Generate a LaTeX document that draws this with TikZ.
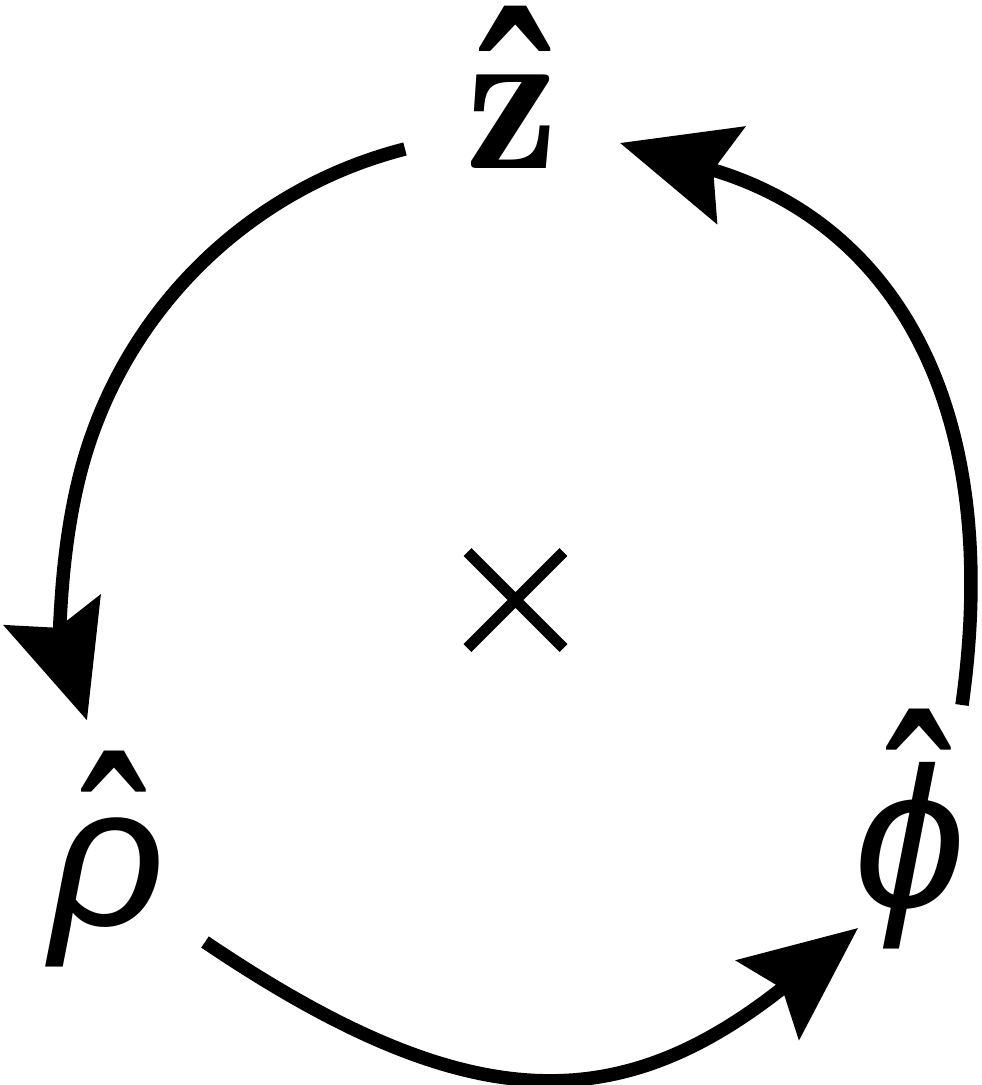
\documentclass[tikz,border=0pt]{standalone}
\usepackage{fontspec}
\usepackage{graphicx}
\usetikzlibrary{arrows.meta,shapes.misc}
\newfontfamily\labfont{Liberation Sans}
% #1 letter, #2 horizontal shift of hat, #3 raise of hat, #4 hat x-scale, #5 hat y-scale
\newcommand\sfhat[5]{\setbox0\hbox{#1}\copy0\kern-\wd0\rlap{\kern#2\raisebox{#3}{\hbox to\wd0{\hss\scalebox{#4}[#5]{\labfont\upshape\fontsize{57}{60}\selectfont ˆ}\hss}}}\kern\wd0}
\tikzset{
  arcline/.style={line width=0.135cm, line cap=butt, -{Stealth[length=1.15cm,width=1.0cm,inset=0.18cm]}},
  greeklab/.style={inner sep=0pt, anchor=base, font=\labfont\itshape\fontsize{57}{60}\selectfont},
  zlab/.style={inner sep=0pt, anchor=base, font=\fontsize{60}{64}\selectfont},
  crossmark/.style={cross out, draw, line width=0.11cm, minimum size=0.85cm, inner sep=0pt}
}
\begin{document}
\begin{tikzpicture}
\useasboundingbox (0,0) rectangle (9.82,-10.85);
\node[crossmark] (x) at (5.155,-6.00) {};
\node[zlab] (z) at (5.12,-1.68) {\sfhat{$\mathbf{z}$}{0.04cm}{-0.71cm}{1.1}{1.6}};
\node[greeklab] (rho) at (1.08,-9.25) {\sfhat{ρ}{0.07cm}{-0.37cm}{1}{1.45}};
\node[greeklab] (phi) at (9.10,-9.07) {\sfhat{ϕ}{0.10cm}{-0.13cm}{1}{1.45}};
% connector end points
\coordinate (zL) at (4.05,-1.49);
\coordinate (rhoB) at (2.05,-9.42);
\coordinate (phiB) at (8.58,-9.28);
\coordinate (phiT) at (9.62,-7.05);
\coordinate (zR) at (6.20,-1.43);
\draw[arcline] (zL) arc[start angle=104.3, end angle=197.5, radius=4.50];
\draw[arcline] (rhoB) .. controls (4.67,-11.19) and (6.18,-11.19) .. (phiB);
\draw[arcline] (phiT) .. controls (10.05,-4.00) and (8.89,-2.21) .. (zR);
\end{tikzpicture}
\end{document}
